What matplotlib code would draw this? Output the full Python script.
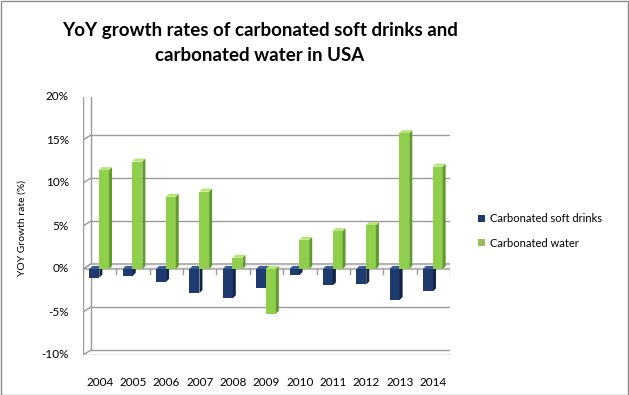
import numpy as np
import matplotlib.pyplot as plt
from matplotlib.patches import Polygon, Rectangle

# Data
years = ["2004", "2005", "2006", "2007", "2008", "2009", "2010", "2011", "2012", "2013", "2014"]
soft_drinks = [-1.0, -0.8, -1.5, -2.8, -3.4, -2.2, -0.7, -1.9, -1.8, -3.6, -2.6]
carb_water = [11.5, 12.5, 8.4, 9.0, 1.3, -5.2, 3.4, 4.4, 5.1, 15.8, 11.9]
yticks = [-10, -5, 0, 5, 10, 15, 20]
series_names = ["Carbonated soft drinks", "Carbonated water"]

BLUE = ("#1f3a6e", "#122548", "#3a5a94")      # face, side, top
GREEN = ("#8fcf4c", "#5f9a2e", "#b8e47c")

plt.rcParams["font.family"] = ["Lato", "DejaVu Sans"]

fig = plt.figure(figsize=(6.29, 3.95), dpi=100)
W, H = 629, 395
ax = fig.add_axes([83 / W, 1 - 355 / H, 367 / W, 258 / H])
ax.set_xlim(-0.5, len(years) - 0.5)
ax.set_ylim(-10, 20)
ax.axis("off")

# pixel -> data conversions for the fake depth
px_x = (len(years)) / 367.0
px_y = 30.0 / 258.0
dpx, dpy = 8, 5          # back wall offset
bdx, bdy = 3 * px_x, 3 * px_y   # bar depth

gc = "#9a9a9a"
x0, x1 = -0.5, len(years) - 0.5
for v in yticks:
    ax.plot([x0 + dpx * px_x, x1 + dpx * px_x], [v + dpy * px_y] * 2, color=gc, lw=1, zorder=1)
    ax.plot([x0, x0 + dpx * px_x], [v, v + dpy * px_y], color=gc, lw=1, zorder=1)
    ax.text(x0 - 14 * px_x, v, f"{v}%", ha="right", va="center", fontsize=8.5)
ax.plot([x0, x0], [-10, 20], color=gc, lw=1, zorder=1)
ax.plot([x0 + dpx * px_x, x0 + dpx * px_x], [-10 + dpy * px_y, 20 + dpy * px_y], color=gc, lw=1, zorder=1)
# floor front edge
ax.plot([x0, x1], [-10, -10], color=gc, lw=1, zorder=1)
ax.plot([x1, x1 + dpx * px_x], [-10, -10 + dpy * px_y], color=gc, lw=1, zorder=1)

# zero plane
ax.add_patch(Polygon([[x0, 0], [x1, 0], [x1 + dpx * px_x, dpy * px_y], [x0 + dpx * px_x, dpy * px_y]],
                     closed=True, fc="#f2f2f2", ec=gc, lw=1, zorder=1.5))
for i in range(len(years) + 1):
    ax.plot([x0 + i, x0 + i], [0, -5 * px_y], color=gc, lw=1, zorder=1.5)


def bar3d(xc, val, width, cols):
    face, side, top = cols
    l, r = xc - width / 2, xc + width / 2
    lo, hi = min(0, val), max(0, val)
    ax.add_patch(Rectangle((l, lo), width, hi - lo, fc=face, ec="none", zorder=3))
    ax.add_patch(Polygon([[r, lo], [r + bdx, lo + bdy], [r + bdx, hi + bdy], [r, hi]],
                         closed=True, fc=side, ec="none", zorder=3))
    ax.add_patch(Polygon([[l, hi], [r, hi], [r + bdx, hi + bdy], [l + bdx, hi + bdy]],
                         closed=True, fc=top, ec="none", zorder=3))


bw = 10 * px_x
xs = np.arange(len(years))
for i in range(len(years)):
    bar3d(xs[i] - 0.16, soft_drinks[i], bw, BLUE)
    bar3d(xs[i] + 0.13, carb_water[i], bw, GREEN)
    ax.text(xs[i], -10 - 27 * px_y, years[i], ha="center", va="center", fontsize=8.5)

fig.text(22 / W, 1 - 228 / H, "YOY Growth rate (%)", rotation=90, ha="center", va="center", fontsize=7.5)

fig.text(260 / W, 1 - 43 / H, "YoY growth rates of carbonated soft drinks and\ncarbonated water in USA",
         ha="center", va="center", fontsize=13.5, fontweight="bold", linespacing=1.55)

# legend
handles = [Rectangle((0, 0), 1, 1, fc=BLUE[0]), Rectangle((0, 0), 1, 1, fc="#9bbb59")]
fig.legend(handles, series_names, loc="center left", bbox_to_anchor=(474 / W, 1 - 231 / H),
           frameon=False, fontsize=8, handlelength=0.6, handleheight=0.6, handletextpad=0.4,
           labelspacing=1.2, borderaxespad=0)

fig.add_artist(Rectangle((0.5 / W, 0.5 / H), 1 - 1.5 / W, 1 - 1.5 / H, transform=fig.transFigure,
                         fill=False, ec="#8a8a8a", lw=1))

fig.savefig("out.png", dpi=100)
